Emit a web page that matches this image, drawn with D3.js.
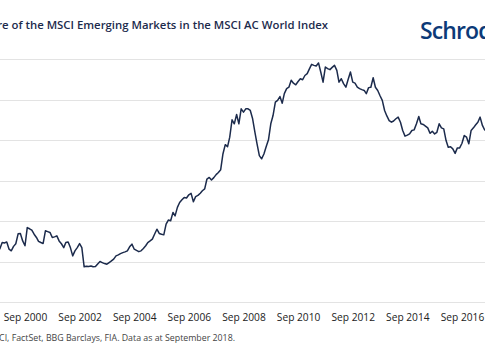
<!DOCTYPE html>
<html>
<head>
<meta charset="utf-8">
<script src="https://cdn.jsdelivr.net/npm/d3@7/dist/d3.min.js"></script>
<style>
  html, body { margin: 0; padding: 0; background: #fff; overflow: hidden; }
  svg { display: block; font-family: "Open Sans", "Noto Sans", sans-serif; }
</style>
</head>
<body>
<svg id="chart" width="485" height="360"></svg>
<script>
// ---- Data (share of MSCI EM in MSCI ACWI, %, monthly) ----
const titleText = "Share of the MSCI Emerging Markets in the MSCI AC World Index";
const sourceText = "Source: MSCI, FactSet, BBG Barclays, FIA. Data as at September 2018.";
const brandText = "Schroders";
const startMonth = "1999-09";
const shareValues = [
  4.50, 4.63, 4.94, 4.92, 4.97, 4.61, 4.53, 4.75, 4.88, 5.37, 5.39, 5.02,
  4.78, 5.68, 5.62, 5.55, 5.35, 5.19, 5.00, 4.94, 4.89, 5.52, 5.48, 5.44,
  5.19, 5.22, 5.27, 5.02, 4.88, 4.69, 4.94, 4.97, 4.69, 4.28, 4.53, 4.69,
  4.89, 4.69, 3.74, 3.77, 3.76, 3.78, 3.74, 3.75, 3.88, 4.00, 3.95, 3.90,
  3.87, 3.95, 4.03, 4.12, 4.28, 4.33, 4.39, 4.44, 4.48, 4.53, 4.73, 4.86,
  4.61, 4.55, 4.49, 4.53, 4.65, 4.78, 4.94, 5.02, 5.11, 5.36, 5.60, 5.39,
  5.35, 5.32, 5.85, 6.05, 6.02, 6.43, 6.26, 6.68, 6.92, 7.05, 7.17, 7.14,
  7.30, 7.37, 6.96, 7.21, 7.27, 7.38, 7.50, 7.59, 8.08, 8.16, 8.03, 8.15,
  8.30, 8.40, 8.54, 9.32, 9.78, 9.68, 10.15, 11.01, 10.81, 11.27, 10.81, 11.55,
  11.39, 11.55, 11.55, 11.47, 11.06, 10.39, 9.82, 9.24, 9.08, 9.32, 9.68, 10.02,
  10.81, 11.22, 11.88, 11.97, 12.16, 11.83, 12.30, 12.55, 12.62, 12.96, 12.82, 12.74,
  12.90, 13.04, 12.99, 13.20, 13.29, 13.54, 13.75, 13.70, 13.67, 13.82, 13.37, 12.87,
  13.62, 13.54, 13.49, 13.60, 13.70, 13.45, 12.87, 13.04, 12.80, 12.62, 13.00, 13.37,
  12.87, 12.82, 12.62, 12.55, 12.50, 12.46, 12.30, 12.60, 12.62, 13.09, 12.62, 12.46,
  12.20, 11.97, 11.47, 11.20, 10.97, 10.89, 10.95, 11.06, 11.14, 10.89, 10.48, 10.20,
  10.25, 10.31, 10.48, 10.51, 10.81, 11.17, 10.81, 10.78, 10.70, 10.61, 10.34, 10.44,
  10.31, 10.39, 10.81, 10.61, 10.56, 9.98, 9.65, 9.68, 9.57, 9.35, 9.62, 9.62,
  9.85, 10.23, 10.15, 9.82, 10.48, 10.61, 10.75, 10.89, 11.14, 10.73, 10.51, 10.50,
  10.70
];
const xTickLabels = ["Sep 2000", "Sep 2002", "Sep 2004", "Sep 2006", "Sep 2008",
                     "Sep 2010", "Sep 2012", "Sep 2014", "Sep 2016", "Sep 2018"];
const yTickValues = [2, 4, 6, 8, 10, 12, 14];

// ---- Build ----
const parseMonth = d3.timeParse("%Y-%m");
const parseLabel = d3.timeParse("%b %Y");
const start = parseMonth(startMonth);
const data = shareValues.map((v, i) => ({ date: d3.timeMonth.offset(start, i), value: v }));

const svg = d3.select("#chart");
const navy = "#1c2b4c";

const x = d3.scaleTime()
  .domain([parseLabel("Sep 2000"), parseLabel("Sep 2016")])
  .range([25, 462]);
const y = d3.scaleLinear()
  .domain([2, 14])
  .range([302, 59.3]);

// Title (left part cropped off in the reference)
svg.append("text")
  .attr("x", 328).attr("y", 29)
  .attr("text-anchor", "end")
  .attr("font-size", 11.35)
  .attr("font-weight", 600)
  .attr("fill", navy)
  .text(titleText);

// Brand
svg.append("text")
  .attr("x", 420).attr("y", 38.5)
  .attr("font-size", 23)
  .attr("font-weight", 600)
  .attr("letter-spacing", -0.9)
  .attr("fill", "#0c3a78")
  .text(brandText);

// Gridlines
svg.append("g")
  .selectAll("line")
  .data(yTickValues)
  .join("line")
  .attr("x1", -10).attr("x2", 495)
  .attr("y1", d => Math.round(y(d)) + 0.5)
  .attr("y2", d => Math.round(y(d)) + 0.5)
  .attr("stroke", "#e3e3e3")
  .attr("stroke-width", 1);

// X axis labels
const xAxis = d3.axisBottom(x)
  .tickValues(xTickLabels.map(parseLabel))
  .tickFormat(d3.timeFormat("%b %Y"))
  .tickSize(0)
  .tickPadding(0);
const gx = svg.append("g")
  .attr("transform", `translate(0, 313.8)`)
  .call(xAxis);
gx.select(".domain").remove();
gx.selectAll("text")
  .attr("font-family", "'Open Sans', 'Noto Sans', sans-serif")
  .attr("font-size", 10.2)
  .attr("fill", "#222");

// Line
const line = d3.line()
  .x(d => x(d.date))
  .y(d => y(d.value));
svg.append("path")
  .datum(data)
  .attr("fill", "none")
  .attr("stroke", navy)
  .attr("stroke-width", 1.5)
  .attr("stroke-linejoin", "round")
  .attr("d", line);

// Source
svg.append("text")
  .attr("x", 235).attr("y", 341)
  .attr("text-anchor", "end")
  .attr("font-size", 8.8)
  .attr("fill", "#444")
  .text(sourceText);
</script>
</body>
</html>
